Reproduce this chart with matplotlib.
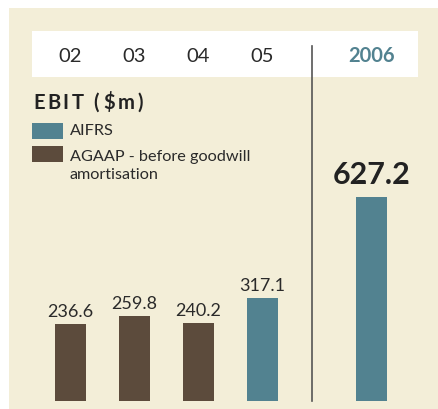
import matplotlib.pyplot as plt
from matplotlib.patches import Rectangle

# data
years = ['02', '03', '04', '05', '2006']
ebit = [236.6, 259.8, 240.2, 317.1, 627.2]
basis = ['AGAAP', 'AGAAP', 'AGAAP', 'AIFRS', 'AIFRS']
xpos = [0, 1, 2, 3, 4.7]

cream = '#f3eed8'
teal = '#528290'
brown = '#5c4b3c'
colours = {'AIFRS': teal, 'AGAAP': brown}

plt.rcParams['font.family'] = ['Lato', 'DejaVu Sans']

fig = plt.figure(figsize=(4.38, 4.10), dpi=100)
W, H = 438, 410

def fx(px):
    return px / W

def fy(py):
    return 1 - py / H

# background panel + white header band
fig.patches.append(Rectangle((fx(9), 0), 1 - fx(9), fy(9), transform=fig.transFigure,
                             facecolor=cream, edgecolor='none', zorder=-10))
fig.patches.append(Rectangle((fx(32), fy(78)), fx(418) - fx(32), fy(32) - fy(78),
                             transform=fig.transFigure, facecolor='white',
                             edgecolor='none', zorder=-9))

ax = fig.add_axes([0, 0, 1, 1], zorder=1)
ax.patch.set_alpha(0)
# x: bar centre 02 at 70.5px, 64px per step ; y: baseline at 402px
scale = 204 / 627.2
ax.set_xlim((0 - 70.5) / 64, (W - 70.5) / 64)
ax.set_ylim(-(H - 402) / scale, 402 / scale)
ax.axis('off')

ax.bar(xpos, ebit, width=0.49, color=[colours[b] for b in basis], zorder=2)

for i in range(4):
    ax.text(xpos[i], ebit[i] + 16, f'{ebit[i]:.1f}', ha='center', va='bottom',
            fontsize=13, color='#2a2a2a')
ax.text(xpos[4], ebit[4] + 28, f'{ebit[4]:.1f}', ha='center', va='bottom',
        fontsize=22, fontweight='bold', color='#222222')

# divider
ax.plot([(312 - 70.5) / 64] * 2, [0, (402 - 47) / scale], color='#555555', lw=1.2, zorder=3)

# year header
for i, y in enumerate(years):
    if y == '2006':
        fig.text(fx(372), fy(56), y, ha='center', va='center', fontsize=14.5,
                 fontweight='bold', color=teal)
    else:
        fig.text(fx(70.5 + 64 * i), fy(56), y, ha='center', va='center', fontsize=14.5,
                 color='#2a2a2a')

# title, letter-spaced by hand
title = 'EBIT ($m)'
cx = 33
widths = {'E': 14.5, 'B': 15, 'I': 9, 'T': 14.5, ' ': 7, '(': 10.5, '$': 14.5, 'm': 19.5, ')': 10}
for ch in title:
    fig.text(fx(cx), fy(103), ch, ha='left', va='center', fontsize=14.5,
             fontweight='bold', color='#222222')
    cx += widths[ch]

# legend
fig.patches.append(Rectangle((fx(32), fy(140)), fx(31), fy(124) - fy(140),
                             transform=fig.transFigure, facecolor=teal, edgecolor='none'))
fig.patches.append(Rectangle((fx(32), fy(163)), fx(31), fy(147) - fy(163),
                             transform=fig.transFigure, facecolor=brown, edgecolor='none'))
fig.text(fx(70), fy(131), 'AIFRS', ha='left', va='center', fontsize=11.7, color='#2a2a2a')
fig.text(fx(70), fy(157), 'AGAAP - before goodwill', ha='left', va='center',
         fontsize=11.7, color='#2a2a2a')
fig.text(fx(70), fy(175), 'amortisation', ha='left', va='center', fontsize=11.7,
         color='#2a2a2a')

fig.savefig('out.png', dpi=100, facecolor='white')
